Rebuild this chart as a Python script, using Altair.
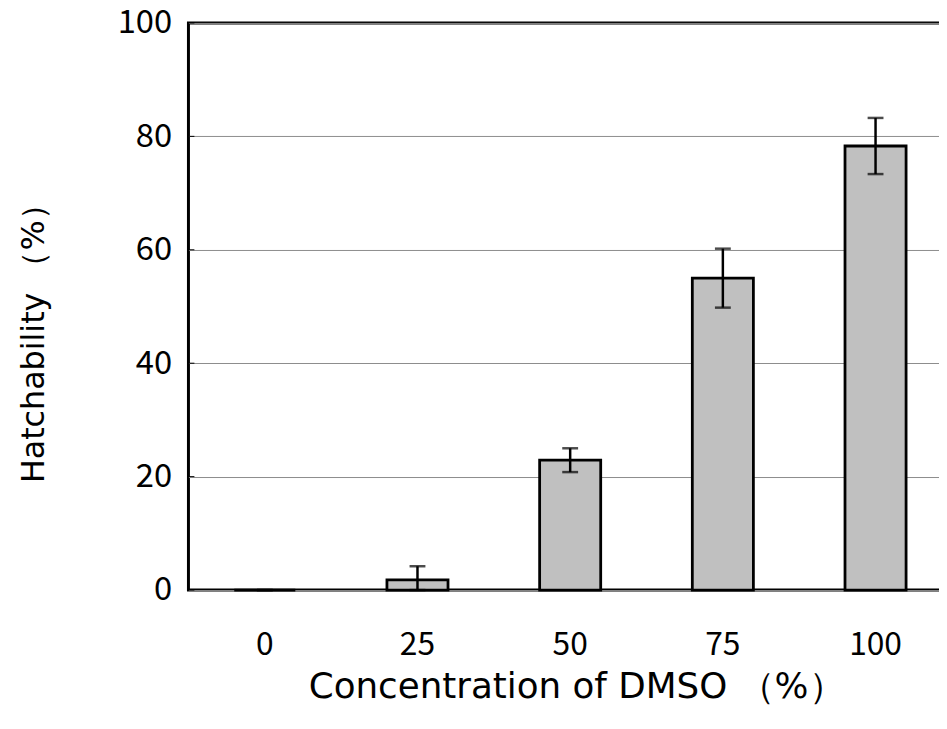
import altair as alt
import pandas as pd

# Data
concentrations = ["0", "25", "50", "75", "100"]
hatchability = [0.0, 1.8, 22.9, 55.0, 78.3]
errors = [0.0, 2.4, 2.1, 5.2, 4.95]
y_ticks = [0, 20, 40, 60, 80, 100]
boundary_cats = ["25", "50", "75", "100"]

df = pd.DataFrame({
    "conc": concentrations,
    "mean": hatchability,
    "err": errors,
})
df["lo"] = df["mean"] - df["err"]
df["hi"] = df["mean"] + df["err"]

W, H = 770, 572
FONT = "Noto Sans CJK JP"
TFONT = "DejaVu Sans"

x_scale = alt.Scale(domain=concentrations, paddingInner=0.6, paddingOuter=0.3)
y_scale = alt.Scale(domain=[0, 100], clamp=True, nice=False)

x_axis = alt.Axis(
    title="Concentration of DMSO （%）",
    labelAngle=0, labelFontSize=32, labelFont=FONT, labelColor="black",
    labelBaseline="alphabetic", labelPadding=65,
    ticks=False, tickSize=0, domain=False, grid=False,
    titleFontSize=36, titleFont=TFONT, titleFontWeight="normal", titleColor="black",
    titleX=391, titleY=108, titleAlign="center", titleBaseline="alphabetic",
)
y_axis = alt.Axis(
    title="Hatchability （%）",
    values=y_ticks, labelFontSize=33, labelFont=FONT, labelColor="black",
    labelPadding=17, ticks=False, tickSize=0, domain=False,
    grid=True, gridColor="#8c8c8c", gridWidth=1,
    titleFontSize=32, titleFont=TFONT, titleFontWeight="normal", titleColor="black",
    titleAngle=270, titleX=-146, titleY=315, titleAlign="center", titleBaseline="alphabetic",
)

base = alt.Chart(df)

bars = base.mark_bar(color="#c0c0c0", stroke="black", strokeWidth=2.8).encode(
    x=alt.X("conc:N", scale=x_scale, axis=x_axis, sort=concentrations),
    y=alt.Y("mean:Q", scale=y_scale, axis=y_axis),
)

err_lines = base.mark_rule(color="black", strokeWidth=2.5).encode(
    x=alt.X("conc:N", sort=concentrations),
    y="lo:Q",
    y2="hi:Q",
)
cap_hi = base.mark_tick(color="black", orient="horizontal", size=16, thickness=2.5).encode(
    x=alt.X("conc:N", sort=concentrations),
    y="hi:Q",
)
cap_lo = base.mark_tick(color="black", orient="horizontal", size=16, thickness=2.5).encode(
    x=alt.X("conc:N", sort=concentrations),
    y="lo:Q",
)

# inward tick marks on the x axis at category boundaries
xticks = alt.Chart(pd.DataFrame({"conc": boundary_cats})).mark_rule(
    color="black", strokeWidth=1
).encode(
    x=alt.X("conc:N", sort=concentrations, bandPosition=0),
    y=alt.value(H - 7),
    y2=alt.value(H),
)
# inward tick marks on the y axis
yticks = alt.Chart(pd.DataFrame({"v": y_ticks})).mark_rule(
    color="black", strokeWidth=1
).encode(
    y=alt.Y("v:Q"),
    x=alt.value(0),
    x2=alt.value(6),
)

chart = alt.layer(bars, xticks, yticks, err_lines, cap_hi, cap_lo).properties(
    width=W, height=H,
    autosize=alt.AutoSizeParams(type="none"),
    padding={"left": 182, "top": 12, "right": -13, "bottom": 129},
    background="white",
).configure_view(
    stroke="black", strokeWidth=3,
)

chart.save("out.html", embed_options={"renderer": "svg", "actions": False})
